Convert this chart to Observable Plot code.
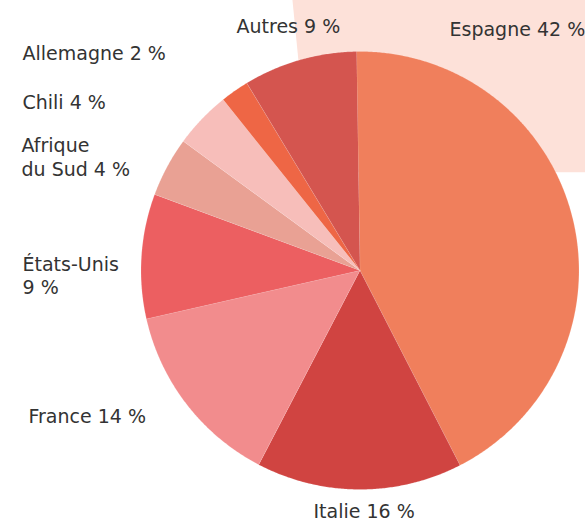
<!DOCTYPE html>
<html>
<head>
<meta charset="utf-8">
<script src="https://cdn.jsdelivr.net/npm/d3@7"></script>
<script src="https://cdn.jsdelivr.net/npm/@observablehq/plot@0.6"></script>
<style>
  html, body { margin: 0; padding: 0; background: #ffffff; }
  #chart svg { display: block; }
</style>
</head>
<body>
<div id="chart"></div>
<script>
// ---- Data ----
const countries = ["Espagne", "Italie", "France", "États-Unis", "Afrique du Sud", "Chili", "Allemagne", "Autres"];
const shares = [42.7, 15.2, 13.8, 9.2, 4.4, 4.2, 2.1, 8.4];           // slice sizes
const labelTexts = ["Espagne 42 %", "Italie 16 %", "France 14 %", "États-Unis\n9 %", "Afrique\ndu Sud 4 %", "Chili 4 %", "Allemagne 2 %", "Autres 9 %"];
const colors = ["#F07F5C", "#D04441", "#F28C8D", "#EC5F61", "#E9A194", "#F7BEBA", "#EE6645", "#D4554F"];

// ---- Layout ----
const W = 585, H = 521;
const CX = 359.5, CY = 270, R = 219;
const START = -0.9 * Math.PI / 180;
// label anchors (left edge, baseline of last line)
const labelPos = [
  [449, 35], [313, 517.5], [28, 422.5], [22, 293.5], [21, 175], [22, 108], [22, 59.5], [236, 32]
];
const backdrop = [[291.5, -5], [600, -5], [600, 171.7], [309, 171.7]];

const data = countries.map((c, i) => ({country: c, value: shares[i]}));
const arcs = d3.pie().sort(null).value(d => d.value).startAngle(START).endAngle(START + 2 * Math.PI)(data);

const slicePts = [];
for (const a of arcs) {
  const name = a.data.country;
  slicePts.push({country: name, x: CX, y: CY});
  const n = Math.max(2, Math.ceil((a.endAngle - a.startAngle) / (0.4 * Math.PI / 180)));
  for (let k = 0; k <= n; k++) {
    const t = a.startAngle + (a.endAngle - a.startAngle) * k / n;
    slicePts.push({country: name, x: CX + R * Math.sin(t), y: CY - R * Math.cos(t)});
  }
}

const labels = countries.map((c, i) => ({country: c, text: labelTexts[i], x: labelPos[i][0], y: labelPos[i][1]}));
const bg = backdrop.map(([x, y]) => ({x, y}));

const chart = Plot.plot({
  width: W,
  height: H,
  margin: 0,
  x: {domain: [0, W], range: [0, W], axis: null},
  y: {domain: [0, H], range: [0, H], axis: null},
  color: {domain: countries, range: colors},
  style: {background: "#ffffff", fontFamily: "'DejaVu Sans', sans-serif"},
  marks: [
    Plot.line(bg, {x: "x", y: "y", fill: "#FDE1D9", stroke: "none"}),
    Plot.line(slicePts, {x: "x", y: "y", z: "country", fill: "country", stroke: "#ffffff", strokeWidth: 0.4, strokeOpacity: 0.35}),
    Plot.text(labels, {
      x: "x", y: "y", text: "text",
      textAnchor: "start", lineAnchor: "bottom", lineHeight: 1.23,
      fontSize: 19, fill: "#333333"
    })
  ]
});

document.getElementById("chart").appendChild(chart);
</script>
</body>
</html>
